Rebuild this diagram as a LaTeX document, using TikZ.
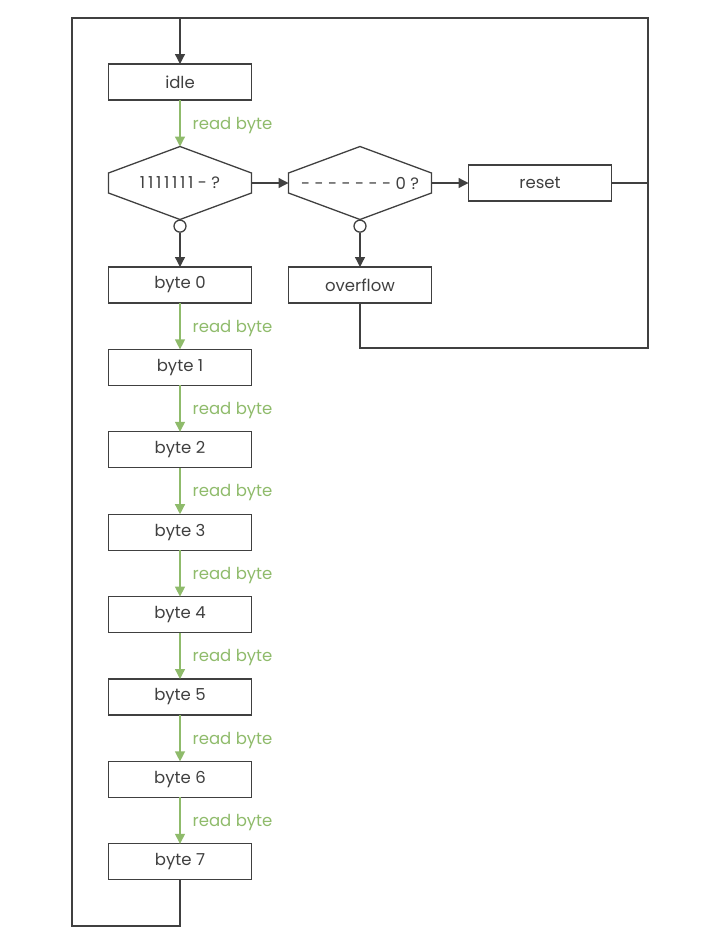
\documentclass[tikz,border=0pt]{standalone}
\usepackage{fontspec}
\setmainfont{Poppins}
\usetikzlibrary{arrows.meta,positioning,calc}
\definecolor{fsmgrey}{RGB}{64,64,64}
\definecolor{fsmgreen}{RGB}{143,187,107}
\tikzset{
  fsmstate/.style={rectangle, draw=fsmgrey, line width=1.3pt, minimum width=143pt,
                   minimum height=36pt, inner sep=0pt, outer sep=0pt, text=fsmgrey,
                   font=\fontsize{16.5}{19}\selectfont},
  fsmtest/.style ={rectangle, minimum width=143pt, minimum height=73pt,
                   inner sep=0pt, outer sep=0pt, text=fsmgrey,
                   font=\fontsize{16.5}{19}\selectfont},
  fsmhex/.style  ={draw=fsmgrey, line width=1.3pt, line join=miter},
  fsmline/.style ={draw=fsmgrey, line width=1.3pt},
  fsmarr/.style  ={fsmline, -{Triangle[length=10pt,width=10pt]}},
  fsmread/.style ={draw=fsmgreen, line width=1.3pt, -{Triangle[length=10pt,width=10pt]}},
  fsmlbl/.style  ={anchor=west, xshift=12pt, yshift=-2pt, inner sep=0pt, text=fsmgreen,
                   font=\fontsize{16.5}{19}\selectfont},
  fsmno/.style   ={circle, draw=fsmgrey, fill=white, line width=1.3pt,
                   minimum size=12pt, inner sep=0pt},
}

\begin{document}
\begin{tikzpicture}[x=1pt, y=-1pt]
  \useasboundingbox (0,0) rectangle (720,945);

  % ---- idle and the two tests ----------------------------------------------
  \node[fsmstate] (idle) at (180,82) {idle};
  \node[fsmtest]  (d1)   at (180,183) {1\,1\,1\,1\,1\,1\,1 - ?};
  \node[fsmtest]  (d2)   at (360,183) {- - - - - - - 0 ?};
  \node[fsmstate] (reset) at (540,183) {reset};
  \foreach \d in {d1,d2} {
    \draw[fsmhex] (\d.north) -- ($(\d.east)+(0,10pt)$) -- ($(\d.east)+(0,-10pt)$)
      -- (\d.south) -- ($(\d.west)+(0,-10pt)$) -- ($(\d.west)+(0,10pt)$) -- cycle;
    \node[fsmno, anchor=north] (\d n) at (\d.south) {};
  }
  \node[fsmstate] (ovf) at (360,285) {overflow};

  \draw[fsmread] (idle) -- node[fsmlbl] {read byte} (d1);
  \draw[fsmarr] (d1.east) -- (d2.west);
  \draw[fsmarr] (d2.east) -- (reset.west);
  \draw[fsmarr] (d2n) -- (ovf);

  % ---- the eight bytes -------------------------------------------------------
  \node[fsmstate] (b0) at (180,285) {byte 0};
  \draw[fsmarr] (d1n) -- (b0);
  \foreach \i in {1,...,7} {
    \pgfmathtruncatemacro{\prev}{\i-1}
    \node[fsmstate, below=46.4pt of b\prev] (b\i) {byte \i};
    \draw[fsmread] (b\prev) -- node[fsmlbl] {read byte} (b\i);
  }

  % ---- the loops back to idle ------------------------------------------------
  \coordinate (topL) at (72,18);
  \coordinate (topM) at (180,18);
  \coordinate (topR) at (648,18);
  \coordinate (botL) at (72,926);
  \coordinate (botR) at (648,348);
  \draw[fsmarr] (b7.south) |- (botL) -- (topL) -- (topM) -- (idle.north);
  \draw[fsmline] (ovf.south) |- (botR) -- (topR) -- (topM);
  \draw[fsmline] (reset.east) -- (reset.east -| topR);
\end{tikzpicture}
\end{document}
